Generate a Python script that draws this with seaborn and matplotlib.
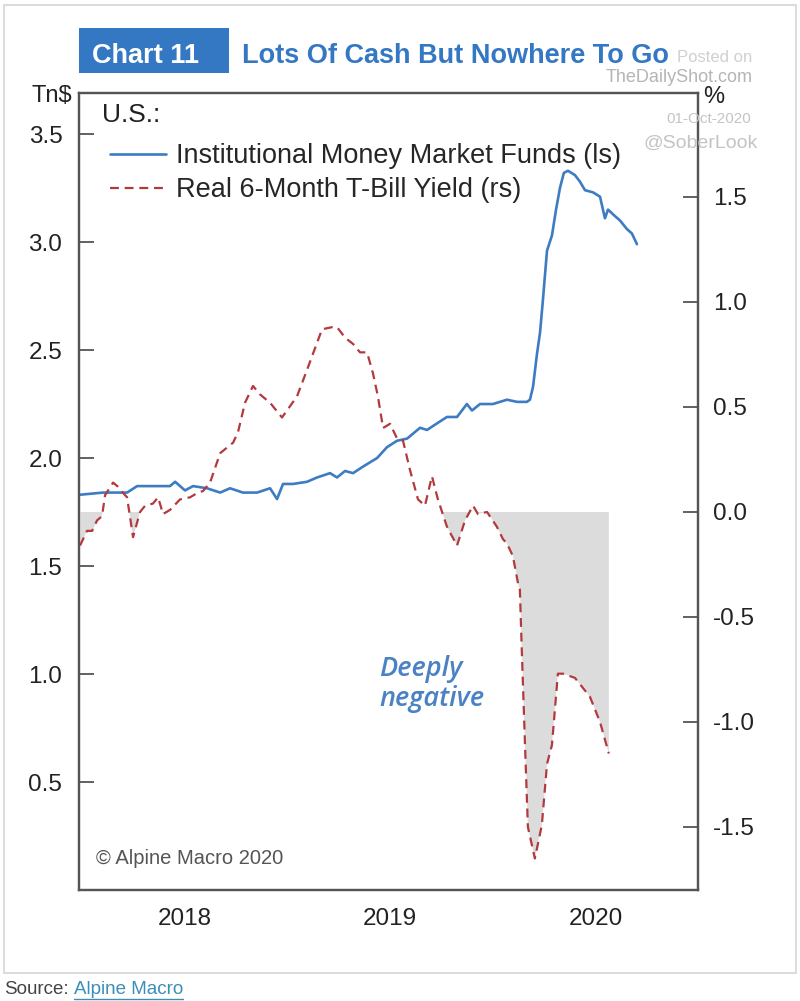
import matplotlib
matplotlib.use("Agg")
import matplotlib.pyplot as plt
import matplotlib.patches as mpatches
from matplotlib.lines import Line2D
import numpy as np
import pandas as pd
import seaborn as sns

# Institutional money market funds, Tn$ (left scale)
mmf_year = [2017.990, 2018.102, 2018.219, 2018.268, 2018.316, 2018.380, 2018.428, 2018.453,
            2018.501, 2018.540, 2018.608, 2018.672, 2018.720, 2018.783, 2018.852, 2018.915,
            2018.949, 2018.978, 2019.027, 2019.095, 2019.144, 2019.207, 2019.241, 2019.280,
            2019.319, 2019.367, 2019.436, 2019.484, 2019.533, 2019.582, 2019.645, 2019.679,
            2019.727, 2019.776, 2019.825, 2019.873, 2019.898, 2019.937, 2020.000, 2020.068,
            2020.117, 2020.165, 2020.180, 2020.195, 2020.214, 2020.229, 2020.243, 2020.263,
            2020.287, 2020.307, 2020.326, 2020.345, 2020.365, 2020.399, 2020.423, 2020.448,
            2020.487, 2020.521, 2020.545, 2020.560, 2020.594, 2020.618, 2020.652, 2020.676,
            2020.701]
mmf_tn = [1.83, 1.84, 1.84, 1.87, 1.87, 1.87, 1.87, 1.89,
          1.85, 1.87, 1.86, 1.84, 1.86, 1.84, 1.84, 1.86,
          1.81, 1.88, 1.88, 1.89, 1.91, 1.93, 1.91, 1.94,
          1.93, 1.96, 2.00, 2.05, 2.08, 2.09, 2.14, 2.13,
          2.16, 2.19, 2.19, 2.25, 2.22, 2.25, 2.25, 2.27,
          2.26, 2.26, 2.27, 2.33, 2.48, 2.58, 2.73, 2.96,
          3.03, 3.15, 3.25, 3.32, 3.33, 3.31, 3.28, 3.24,
          3.23, 3.21, 3.11, 3.15, 3.12, 3.10, 3.06, 3.04,
          2.99]

# Real 6-month T-bill yield, % (right scale)
tbill_year = [2017.990, 2018.024, 2018.049, 2018.073, 2018.097, 2018.112, 2018.151, 2018.175,
              2018.200, 2018.219, 2018.248, 2018.282, 2018.307, 2018.345, 2018.370, 2018.394,
              2018.428, 2018.477, 2018.526, 2018.560, 2018.589, 2018.623, 2018.672, 2018.735,
              2018.759, 2018.793, 2018.832, 2018.866, 2018.915, 2018.973, 2019.046, 2019.100,
              2019.168, 2019.217, 2019.241, 2019.280, 2019.319, 2019.353, 2019.387, 2019.416,
              2019.440, 2019.465, 2019.499, 2019.533, 2019.562, 2019.596, 2019.635, 2019.669,
              2019.703, 2019.732, 2019.776, 2019.825, 2019.864, 2019.903, 2019.927, 2019.971,
              2020.019, 2020.049, 2020.068, 2020.097, 2020.122, 2020.131, 2020.141, 2020.156,
              2020.170, 2020.204, 2020.238, 2020.263, 2020.287, 2020.316, 2020.341, 2020.399,
              2020.472, 2020.521, 2020.564]
tbill_pct = [-0.16, -0.09, -0.09, -0.04, -0.02, 0.08, 0.14, 0.12,
             0.09, 0.07, -0.12, 0.00, 0.03, 0.04, 0.07, -0.01,
             0.01, 0.06, 0.07, 0.09, 0.10, 0.14, 0.28, 0.33,
             0.38, 0.52, 0.60, 0.56, 0.52, 0.45, 0.55, 0.69,
             0.87, 0.88, 0.88, 0.83, 0.80, 0.76, 0.76, 0.66,
             0.55, 0.40, 0.42, 0.35, 0.34, 0.20, 0.06, 0.03,
             0.17, 0.06, -0.07, -0.16, -0.04, 0.03, -0.01, 0.00,
             -0.07, -0.13, -0.15, -0.21, -0.34, -0.37, -0.68, -1.11,
             -1.50, -1.65, -1.49, -1.20, -1.11, -0.77, -0.77, -0.79,
             -0.88, -1.00, -1.15]

years = [2018, 2019, 2020]
year_labels = ["2018", "2019", "2020"]
left_ticks = [0.5, 1.0, 1.5, 2.0, 2.5, 3.0, 3.5]
right_ticks = [-1.5, -1.0, -0.5, 0.0, 0.5, 1.0, 1.5]

BLUE = "#3d7cc2"
RED = "#b23a3e"
TITLE_BLUE = "#3478c4"
SPINE = "#555555"

sns.set_style("white")
plt.rcParams["font.family"] = ["Liberation Sans", "DejaVu Sans"]

W, H = 800, 1001


def fx(x):
    return x / W


def fy(y):
    return 1 - y / H


mmf = pd.DataFrame({"year": mmf_year, "tn": mmf_tn})
tbill = pd.DataFrame({"year": tbill_year, "pct": tbill_pct})

fig = plt.figure(figsize=(8, 10.01), dpi=100)
ax = fig.add_axes([fx(79), fy(890), (698 - 79) / W, (890 - 93) / H])
ax2 = ax.twinx()

# grey area where the real yield is negative
yv = np.array(tbill_pct)
ax2.fill_between(tbill["year"], yv, 0, where=yv < 0, interpolate=True,
                 color="#dcdcdc", linewidth=0, zorder=1)

sns.lineplot(data=mmf, x="year", y="tn", ax=ax, color=BLUE, linewidth=1.9, zorder=3)
sns.lineplot(data=tbill, x="year", y="pct", ax=ax2, color=RED, linewidth=1.6, zorder=3)
ax2.lines[-1].set_linestyle((0, (4, 2.6)))

ax.set_xlim(2017.985, 2020.998)
ax.set_ylim(0, 3.69)
ax2.set_ylim(-1.8, 1.995)

ax.set_xticks(years)
ax.set_xticklabels([])
ax.set_xticks([y + 0.5 for y in years], minor=True)
ax.set_xticklabels(year_labels, minor=True)
ax.tick_params(axis="x", which="major", direction="in", length=11, width=1.3, color=SPINE)
ax.tick_params(axis="x", which="minor", length=0, pad=13, labelsize=17.5, labelcolor="#222222")

ax.set_yticks(left_ticks)
ax.set_yticklabels([f"{v:.1f}" for v in left_ticks])
ax.tick_params(axis="y", direction="in", length=11, width=1.3, color=SPINE, pad=12,
               labelsize=17.5, labelcolor="#222222", left=True)
ax2.set_yticks(right_ticks)
ax2.set_yticklabels([f"{v:.1f}" for v in right_ticks])
ax2.tick_params(axis="y", direction="in", length=11, width=1.3, color=SPINE, pad=11,
                labelsize=17.5, labelcolor="#222222", right=True)

for a in (ax, ax2):
    a.set_xlabel("")
    a.set_ylabel("")
    for s in a.spines.values():
        s.set_color(SPINE)
        s.set_linewidth(1.6)

# legend
handles = [Line2D([], [], color=BLUE, linewidth=1.9),
           Line2D([], [], color=RED, linewidth=1.6, linestyle=(0, (4, 2.6)))]
labels = ["Institutional Money Market Funds (ls)", "Real 6-Month T-Bill Yield (rs)"]
ax.legend(handles, labels, loc="upper left", bbox_to_anchor=(fx(110), fy(143)),
          bbox_transform=fig.transFigure, frameon=False, fontsize=19.5,
          handlelength=2.05, handletextpad=0.4, labelspacing=0.3, borderpad=0, borderaxespad=0)

fig.text(fx(102), fy(115), "U.S.:", fontsize=19, va="center", ha="left", color="#222222")
fig.text(fx(52), fy(96), "Tn$", fontsize=17, va="center", ha="center", color="#222222")
fig.text(fx(714), fy(97), "%", fontsize=17, va="center", ha="center", color="#222222",
         zorder=5)

fig.text(fx(379), fy(684), "Deeply\nnegative", fontsize=19.5, color="#4a82c4", style="italic",
         fontweight="semibold", family=["Open Sans", "DejaVu Sans"], va="center", ha="left",
         linespacing=1.08)
fig.text(fx(96), fy(858), "\u00a9 Alpine Macro 2020", fontsize=14.5, color="#555555",
         va="center", ha="left")

# watermark
fig.text(fx(752), fy(57), "Posted on", fontsize=12, color="#d0d0d0", ha="right", va="center")
fig.text(fx(753), fy(77), "TheDailyShot.com", fontsize=13, color="#b5b5b5", ha="right",
         va="center")
fig.text(fx(751), fy(119), "01-Oct-2020", fontsize=11, color="#c4c4c4", ha="right",
         va="center")
fig.text(fx(758), fy(143), "@SoberLook", fontsize=14, color="#c4c4c4", ha="right",
         va="center")

# title
fig.add_artist(mpatches.Rectangle((fx(79), fy(73)), (229 - 79) / W, (73 - 28) / H,
                                  transform=fig.transFigure, facecolor=TITLE_BLUE,
                                  edgecolor="none", zorder=2))
fig.text(fx(146), fy(63), "Chart 11", fontsize=19.5, color="white", ha="center",
         va="baseline", fontweight="bold", zorder=3)
fig.text(fx(242), fy(63), "Lots Of Cash But Nowhere To Go", fontsize=19.5, color=TITLE_BLUE,
         ha="left", va="baseline", fontweight="bold", zorder=3)

# outer frame
fig.add_artist(mpatches.Rectangle((fx(4), fy(973)), (796 - 4) / W, (973 - 5) / H,
                                  transform=fig.transFigure, facecolor="none",
                                  edgecolor="#d6d6d6", linewidth=1.2, zorder=0))

# source line
fig.text(fx(4), fy(990), "Source:", fontsize=13.5, color="#444444", ha="left", va="center")
fig.text(fx(74), fy(990), "Alpine Macro", fontsize=13.5, color="#3a8fb7", ha="left",
         va="center")
fig.add_artist(Line2D([fx(74), fx(183)], [fy(999), fy(999)], transform=fig.transFigure,
                      color="#3a8fb7", linewidth=1))

fig.savefig("out.png", dpi=100)
